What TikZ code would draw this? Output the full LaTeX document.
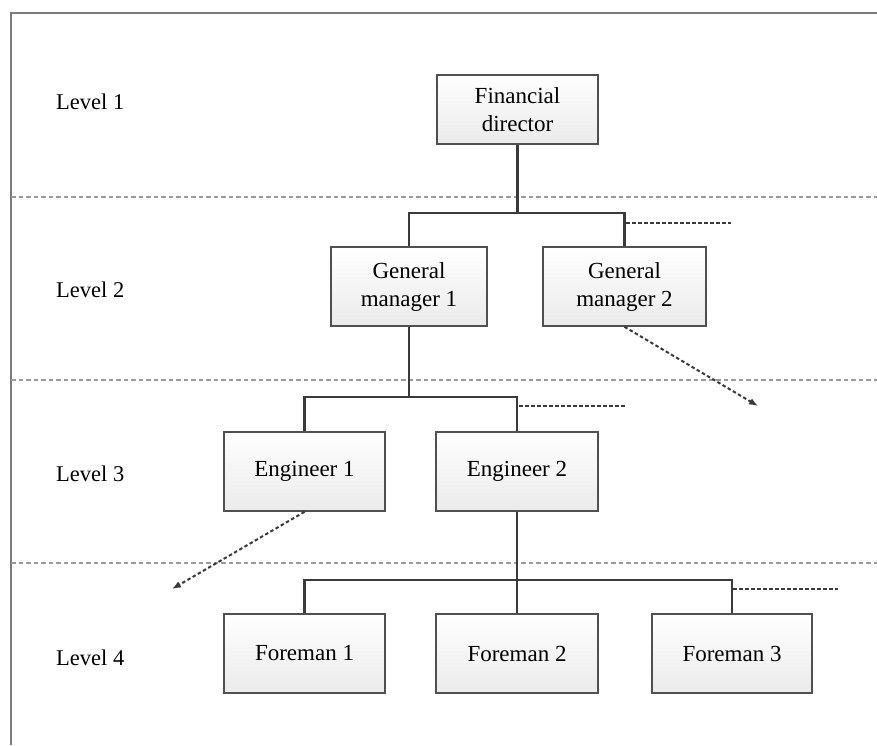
\documentclass[tikz,border=0pt]{standalone}
\usepackage{fontspec}
\setmainfont{Liberation Serif}
\usetikzlibrary{arrows.meta}
\definecolor{framegray}{HTML}{7A7A7A}
\definecolor{sepgray}{HTML}{9A9A9A}
\definecolor{linkgray}{HTML}{3A3A3A}
\definecolor{boxedge}{HTML}{505050}
\tikzset{
  orgbox/.style={draw=boxedge, line width=1.6pt, top color=white, bottom color=black!8,
    minimum height=79pt, align=center, inner sep=2pt,
    font=\fontsize{23}{28}\selectfont},
  levellabel/.style={anchor=west, inner sep=0pt, font=\fontsize{22.5}{27}\selectfont},
  link/.style={draw=linkgray, line width=2.2pt},
  separator/.style={draw=sepgray, line width=1.4pt, dash pattern=on 4.5pt off 3pt},
  dotlink/.style={draw=linkgray, line width=2pt, dash pattern=on 3.5pt off 2.5pt},
  dotarrow/.style={dotlink, -{Latex[length=9pt,width=7pt]}}
}
\begin{document}
\begin{tikzpicture}[x=1pt,y=-1pt]
\useasboundingbox (0,0) rectangle (877,745);

% frame
\draw[framegray, line width=1.8pt] (11,745) -- (11,13) -- (877,13);

% level separators
\foreach \yy in {197,380,563}
  \draw[separator] (11,\yy) -- (877,\yy);

% level labels
\node[levellabel] (l1) at (56,102) {Level 1};
\node[levellabel] (l2) at (56,290) {Level 2};
\node[levellabel] (l3) at (56,474) {Level 3};
\node[levellabel] (l4) at (56,658) {Level 4};

% boxes
\node[orgbox, minimum width=161pt, minimum height=69pt] (fd) at (517.5,109.5) {Financial\\director};
\node[orgbox, minimum width=156pt] (gm1) at (409,286.5) {General\\manager 1};
\node[orgbox, minimum width=163pt] (gm2) at (624.5,286.5) {General\\manager 2};
\node[orgbox, minimum width=161pt] (en1) at (304.5,471.5) {Engineer 1};
\node[orgbox, minimum width=162pt] (en2) at (517,471.5) {Engineer 2};
\node[orgbox, minimum width=161pt] (fm1) at (304.5,653.5) {Foreman 1};
\node[orgbox, minimum width=162pt] (fm2) at (517,653.5) {Foreman 2};
\node[orgbox, minimum width=160pt] (fm3) at (732,653.5) {Foreman 3};

% bus heights
\coordinate (bus2) at (0,213);
\coordinate (bus3) at (0,397);
\coordinate (bus4) at (0,580);

% level 1 -> level 2
\draw[link] (fd.south) -- (fd.south |- bus2);
\draw[link] (gm1.north) -- (gm1.north |- bus2) -- (gm2.north |- bus2) -- (gm2.north);

% level 2 -> level 3
\draw[link] (gm1.south) -- (gm1.south |- bus3);
\draw[link] (en1.north) -- (en1.north |- bus3) -- (en2.north |- bus3) -- (en2.north);

% level 3 -> level 4
\draw[link] (en2.south) -- (en2.south |- bus4);
\draw[link] (fm1.north) -- (fm1.north |- bus4) -- (fm3.north |- bus4) -- (fm3.north);
\draw[link] (fm2.north) -- (fm2.north |- bus4);

% further branches, not shown in full
\coordinate (d2a) at (626,223);  \coordinate (d2b) at (731,223);
\coordinate (d3a) at (519,406);  \coordinate (d3b) at (625,406);
\coordinate (d4a) at (733,589);  \coordinate (d4b) at (838,589);
\draw[dotlink] (d2a) -- (d2b);
\draw[dotlink] (d3a) -- (d3b);
\draw[dotlink] (d4a) -- (d4b);

\coordinate (a2) at (758,406);
\coordinate (a3) at (172,589);
\draw[dotarrow] (gm2.south) -- (a2);
\draw[dotarrow] (en1.south) -- (a3);
\end{tikzpicture}
\end{document}
